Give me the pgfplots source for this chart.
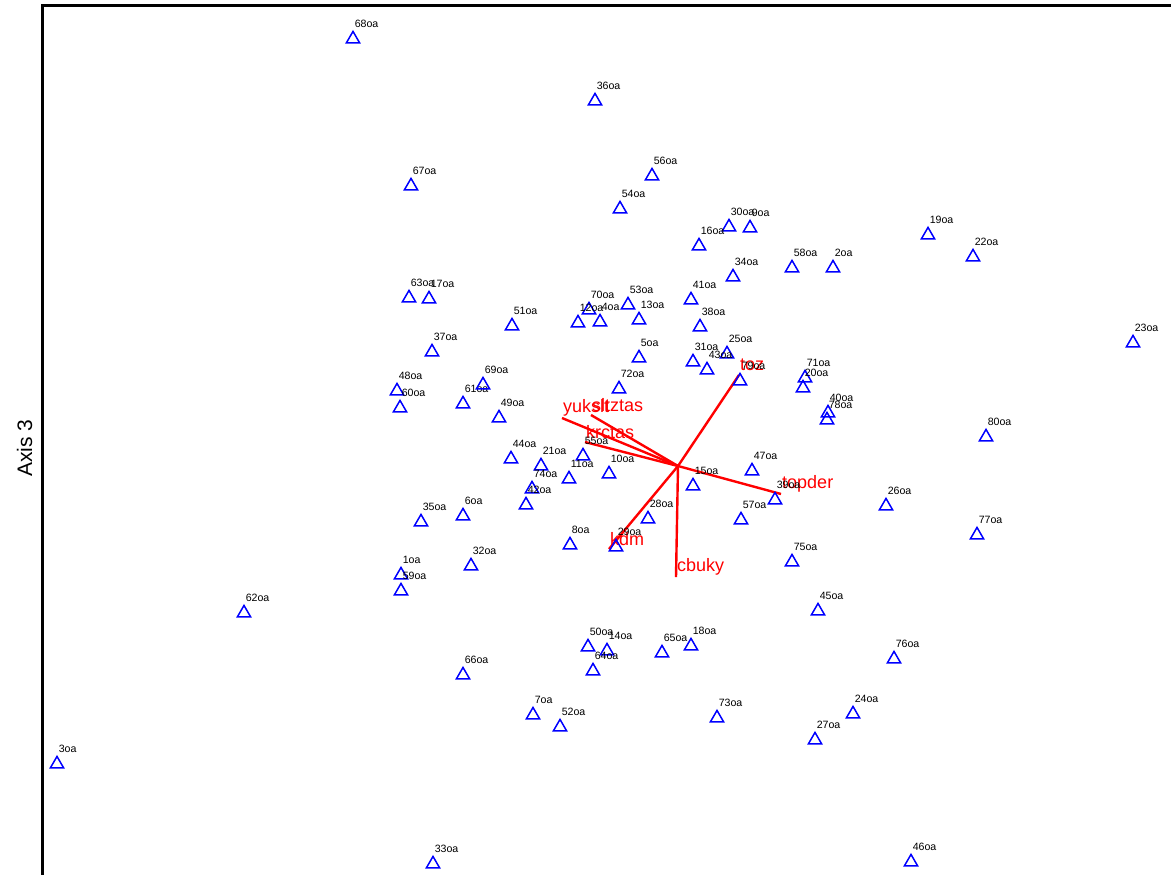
\documentclass[border=0pt]{standalone}
\usepackage{pgfplots}
\usepackage{pgfplotstable}
\pgfplotsset{compat=1.18}
\usepackage{fontspec}
\setmainfont{Liberation Sans}

% site scores (plot units: x to the right, y downwards)
\pgfplotstableread{
x y lab
353 39 68
595 101 36
652 176 56
411 186 67
620 209 54
729 227 30
750 228 9
699 246 16
928 235 19
973 257 22
733 277 34
792 268 58
833 268 2
409 298 63
429 299 17
691 300 41
512 326 51
589 310 70
578 323 12
600 322 4
628 305 53
639 320 13
700 327 38
432 352 37
727 354 25
693 362 31
707 370 43
740 381 79
639 358 5
619 389 72
805 378 71
803 388 20
828 413 40
827 420 78
1133 343 23
397 391 48
400 408 60
463 404 61
483 385 69
499 418 49
986 437 80
511 459 44
541 466 21
583 456 55
609 474 10
569 479 11
532 489 74
526 505 42
752 471 47
693 486 15
775 500 39
886 506 26
648 519 28
741 520 57
463 516 6
421 522 35
977 535 77
570 545 8
616 547 29
471 566 32
401 575 1
401 591 59
792 562 75
244 613 62
818 611 45
588 647 50
607 651 14
593 671 64
662 653 65
691 646 18
894 659 76
463 675 66
853 714 24
533 715 7
717 718 73
560 727 52
815 740 27
57 764 3
433 864 33
911 862 46
}\sites

\begin{document}
\begin{tikzpicture}
\begin{axis}[
  at={(0,0)}, anchor=south west,
  x=0.5pt, y=0.5pt, y dir=reverse,
  xmin=0, xmax=1171, ymin=0, ymax=874,
  axis line style={draw=none},
  ticks=none,
  ylabel={Axis 3},
  ylabel style={at={(axis description cs:0.021,0.487)}, anchor=center,
    font=\fontsize{10.5}{12}\selectfont},
]
% frame (left and top sides)
\draw[line width=1.5pt, line join=miter] (axis cs:42,880) -- (axis cs:42,5) -- (axis cs:1180,5);

% sites
\addplot[only marks, mark=triangle, mark size=3.8pt,
  mark options={draw=blue, line width=0.75pt},
  point meta=explicit symbolic,
  nodes near coords={\pgfplotspointmeta oa},
  every node near coord/.style={anchor=west, inner sep=0pt, xshift=0.5pt, yshift=7.5pt,
    text=black, font=\fontsize{5.3}{6}\selectfont}]
  table[x=x, y=y, meta=lab] {\sites};

% environmental vectors
\tikzset{vlab/.style={anchor=west, inner sep=0pt, yshift=5pt, text=red, font=\fontsize{9}{10}\selectfont}}
\addplot[red, line width=1.2pt] coordinates {(678,466) (739,375)} node[pos=1, vlab] {toz};
\addplot[red, line width=1.2pt] coordinates {(678,466) (781,494)} node[pos=1, vlab] {topder};
\addplot[red, line width=1.2pt] coordinates {(678,466) (676,577)} node[pos=1, vlab] {cbuky};
\addplot[red, line width=1.2pt] coordinates {(678,466) (609,549)} node[pos=1, vlab] {kdm};
\addplot[red, line width=1.2pt] coordinates {(678,466) (562,418)} node[pos=1, vlab] {yukslt};
\addplot[red, line width=1.2pt] coordinates {(678,466) (591,415)} node[pos=1, vlab] {sltztas};
\addplot[red, line width=1.2pt] coordinates {(678,466) (585,442)} node[pos=1, vlab] {krctas};
\end{axis}
\pgfresetboundingbox
\useasboundingbox (0,0) rectangle (585.5pt,437pt);
\end{tikzpicture}
\end{document}
